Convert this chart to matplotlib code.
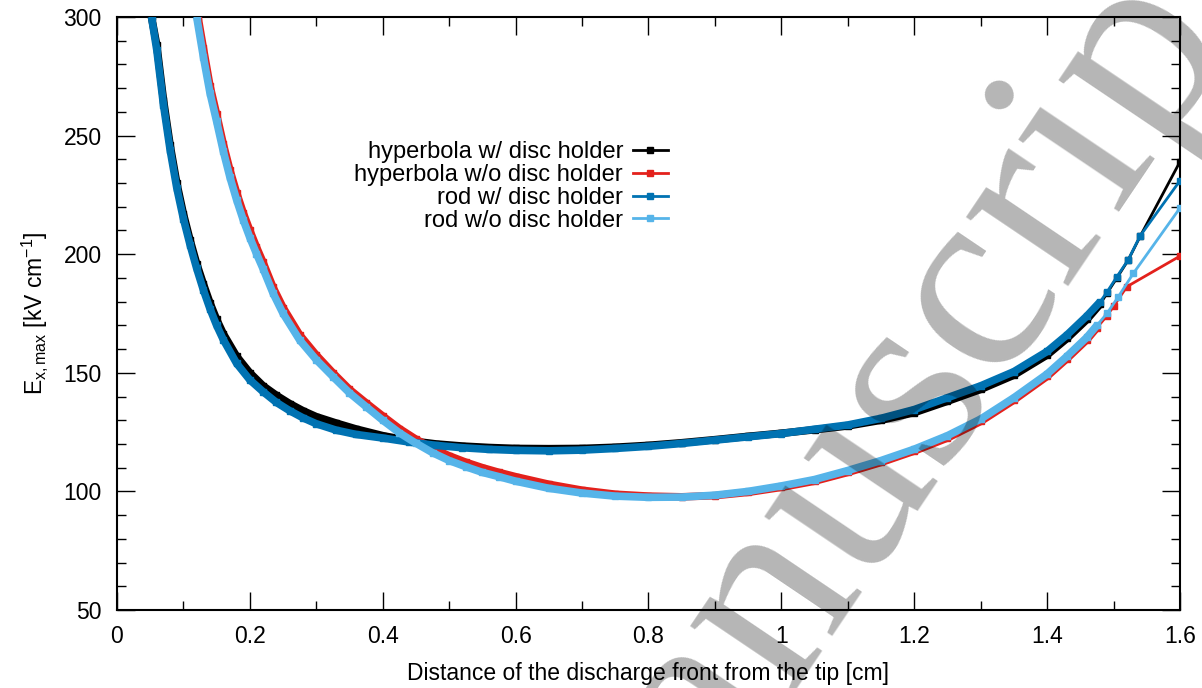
import numpy as np
import matplotlib
matplotlib.use("Agg")
import matplotlib.pyplot as plt
from matplotlib.ticker import MultipleLocator, FuncFormatter

plt.rcParams['font.family'] = ['Liberation Sans', 'DejaVu Sans']
plt.rcParams['mathtext.fontset'] = 'custom'
plt.rcParams['mathtext.rm'] = 'Liberation Sans'
plt.rcParams['mathtext.it'] = 'Liberation Sans:italic'
plt.rcParams['font.size'] = 16.5

# distance of the discharge front from the tip [cm]
x_w = [0.052, 0.06, 0.07, 0.08, 0.09, 0.10, 0.11, 0.12, 0.13, 0.14, 0.15, 0.16, 0.18,
       0.20, 0.22, 0.24, 0.26, 0.28, 0.30, 0.33, 0.36, 0.40, 0.44, 0.48, 0.52, 0.56,
       0.60, 0.65, 0.70, 0.75, 0.80, 0.85, 0.90, 0.95, 1.00, 1.05, 1.10, 1.15, 1.20,
       1.25, 1.30, 1.35, 1.40, 1.43, 1.46, 1.48, 1.49, 1.505, 1.522, 1.54, 1.60]
hyp_w = [300, 288, 265, 246, 230, 217, 206, 196, 187.5, 179.5, 172.5, 166.5, 157,
         150, 144.5, 140.5, 137, 134, 131.5, 128.8, 126.3, 123.5, 121.4, 120, 119.1, 118.5,
         118.1, 118, 118.1, 118.6, 119.4, 120.5, 121.8, 123.2, 124.5, 126, 127.6, 130, 133.2,
         138, 143, 149, 157.5, 164.5, 172.5, 179, 183.5, 190, 197.5, 207.5, 239]
rod_w = [300, 286, 263, 244, 228, 215, 204, 194, 185, 177, 170, 164, 154,
         147, 142, 137.5, 134, 131, 128.5, 125.8, 124, 122.5, 120.8, 119.4, 118.4, 117.7,
         117.3, 117.1, 117.4, 118.1, 119, 120.2, 121.6, 123, 124.4, 126.2, 128, 130.8, 134.5,
         139.5, 144.5, 150.5, 159, 166, 174, 180, 184, 190.5, 197.6, 207.7, 231]

x_rod_wo = [0.12, 0.13, 0.14, 0.15, 0.16, 0.17, 0.18, 0.19, 0.20, 0.21, 0.22, 0.235, 0.25,
            0.275, 0.30, 0.325, 0.35, 0.375, 0.40, 0.425, 0.45, 0.475, 0.50, 0.525, 0.55,
            0.575, 0.60, 0.65, 0.70, 0.75, 0.80, 0.85, 0.90, 0.95, 1.00, 1.05, 1.10, 1.15,
            1.20, 1.25, 1.30, 1.35, 1.40, 1.43, 1.46, 1.475, 1.49, 1.507, 1.53, 1.60]
rod_wo = [300, 283.3, 268, 256, 243.5, 232.5, 223, 214.5, 207, 200.2, 193.8, 183.5, 175,
          163.8, 155.5, 148.4, 141.5, 135.7, 130, 124.7, 120.3, 116.3, 113, 110.4, 108,
          106.2, 104.3, 101.3, 99.3, 98, 97.5, 97.6, 98.4, 100, 102.3, 105, 108.8, 113,
          117.8, 123.5, 130.5, 139.5, 149.5, 157, 165, 170, 175, 182, 192, 219.5]

x_hyp_wo = [0.122, 0.13, 0.14, 0.15, 0.16, 0.17, 0.18, 0.19, 0.20, 0.21, 0.22, 0.235, 0.25,
            0.275, 0.30, 0.325, 0.35, 0.375, 0.40, 0.425, 0.45, 0.475, 0.50, 0.525, 0.55,
            0.575, 0.60, 0.65, 0.70, 0.75, 0.80, 0.85, 0.90, 0.95, 1.00, 1.05, 1.10, 1.15,
            1.20, 1.25, 1.30, 1.35, 1.40, 1.43, 1.46, 1.475, 1.49, 1.50, 1.52, 1.60]
hyp_wo = [300, 287, 271, 259, 246.5, 235.5, 226, 217.5, 210, 203, 196.5, 186, 177.5,
          166, 157.5, 150, 143, 137.3, 131.8, 126.5, 122, 118.2, 115, 112.3, 110,
          108, 106.2, 103, 100.5, 98.8, 98, 97.7, 98.2, 99.6, 101.7, 104.3, 108, 112.2,
          117, 122.5, 129.5, 138.5, 148.5, 156, 164, 169, 174, 178, 186.3, 199.2]

series = [
    ('hyperbola w/ disc holder', x_w, hyp_w, '#000000'),
    ('hyperbola w/o disc holder', x_hyp_wo, hyp_wo, '#e3211c'),
    ('rod w/ disc holder', x_w, rod_w, '#0072b2'),
    ('rod w/o disc holder', x_rod_wo, rod_wo, '#56b4e9'),
]

fig = plt.figure(figsize=(12.02, 6.88), dpi=100)
ax = fig.add_axes([0.0973, 0.1134, 0.8844, 0.8619])

handles = []
for i, (name, xs, ys, col) in enumerate(series):
    xs = np.array(xs)
    ys = np.array(ys)
    dense = xs <= 1.48
    # the densely sampled part looks like a thick band of merged markers
    ax.plot(xs[dense], ys[dense], color=col, lw=5.5, solid_capstyle='butt', zorder=2 + i)
    ln, = ax.plot(xs, ys, color=col, lw=2.0, marker='s', ms=5, zorder=2 + i, label=name)
    handles.append(ln)

ax.set_xlim(0, 1.6)
ax.set_ylim(50, 300)
ax.xaxis.set_major_locator(MultipleLocator(0.2))
ax.xaxis.set_minor_locator(MultipleLocator(0.1))
ax.yaxis.set_major_locator(MultipleLocator(50))
ax.yaxis.set_minor_locator(MultipleLocator(10))
ax.xaxis.set_major_formatter(FuncFormatter(lambda v, p: f'{v:g}'))
ax.tick_params(which='both', direction='in', top=True, right=True, width=1.0)
ax.tick_params(which='major', length=13, pad=11)
ax.tick_params(which='minor', length=6.5)
for sp in ax.spines.values():
    sp.set_linewidth(1.5)

ax.set_xlabel('Distance of the discharge front from the tip [cm]', labelpad=10)
ax.set_ylabel(r'E$_{\mathrm{x,max}}$ [kV cm$^{\mathrm{-1}}$]', labelpad=10)

ax.legend(handles=handles, markerfirst=False, frameon=False, loc='upper right',
          bbox_to_anchor=(0.5183, 0.791), borderaxespad=0, borderpad=0, fontsize=17,
          handlelength=1.5, handletextpad=0.4, labelspacing=0.04)

# watermark
fig.text(0.4873, -0.4398, 'Manuscript', fontsize=194, family='Liberation Serif',
         color='black', alpha=0.29, rotation=56, rotation_mode='anchor',
         ha='left', va='baseline', zorder=20)

fig.savefig('out.png', dpi=100)
